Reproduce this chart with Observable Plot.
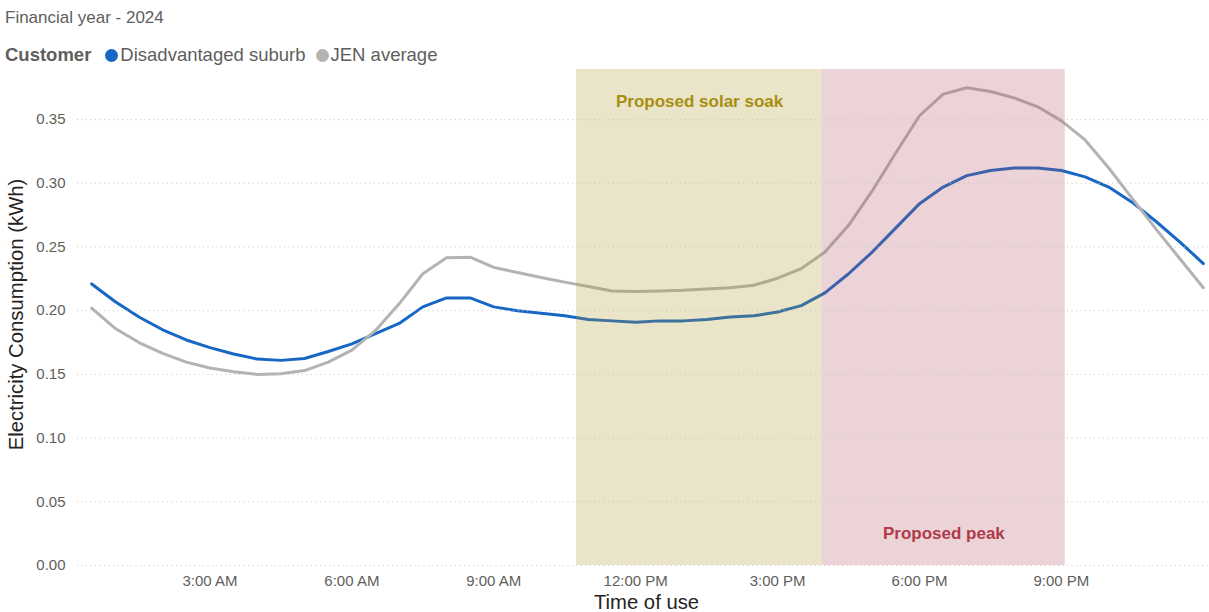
<!DOCTYPE html>
<html>
<head>
<meta charset="utf-8">
<script src="https://cdn.jsdelivr.net/npm/d3@7"></script>
<script src="https://cdn.jsdelivr.net/npm/@observablehq/plot@0.6"></script>
<style>
  html, body { margin: 0; padding: 0; background: #fff; }
  body { width: 1209px; height: 612px; overflow: hidden; font-family: "Liberation Sans", Arial, sans-serif; }
  #header { position: relative; height: 64px; }
  #title { position: absolute; left: 5px; top: 8px; font-size: 17px; color: #605e5c; white-space: nowrap; }
  #legend { position: absolute; left: 5px; top: 44px; font-size: 18.5px; color: #605e5c; white-space: nowrap; display: flex; align-items: center; height: 22px; }
  #legend b { margin-right: 14px; }
  .dot { display: inline-block; width: 13px; height: 13px; border-radius: 50%; margin-right: 2px; }
  .item { display: flex; align-items: center; margin-right: 10px; }
</style>
</head>
<body>
<div id="header">
  <div id="title"></div>
  <div id="legend"></div>
</div>
<div id="chart"></div>
<script>
// ---- Data ----
const chartTitle = "Financial year - 2024";
const legendTitle = "Customer";
const seriesNames = ["Disadvantaged suburb", "JEN average"];
const seriesColors = ["#1767c4", "#b3b3b3"];

// half-hourly time of use (hours after midnight)
const hours = [0.5, 1, 1.5, 2, 2.5, 3, 3.5, 4, 4.5, 5, 5.5, 6, 6.5, 7, 7.5, 8, 8.5, 9, 9.5, 10, 10.5, 11, 11.5, 12,
               12.5, 13, 13.5, 14, 14.5, 15, 15.5, 16, 16.5, 17, 17.5, 18, 18.5, 19, 19.5, 20, 20.5, 21, 21.5, 22, 22.5, 23, 23.5, 24];

const suburb = [0.221, 0.207, 0.195, 0.185, 0.177, 0.171, 0.166, 0.162, 0.161, 0.1625, 0.168, 0.174,
                0.182, 0.190, 0.203, 0.210, 0.210, 0.203, 0.200, 0.198, 0.196, 0.193, 0.192, 0.191,
                0.192, 0.192, 0.193, 0.195, 0.196, 0.199, 0.204, 0.214, 0.229, 0.246, 0.265, 0.284,
                0.297, 0.306, 0.310, 0.312, 0.312, 0.310, 0.305, 0.297, 0.285, 0.270, 0.254, 0.237];

const jen = [0.202, 0.186, 0.175, 0.1665, 0.1596, 0.155, 0.152, 0.150, 0.1505, 0.153, 0.1596, 0.169,
             0.1845, 0.2054, 0.229, 0.2415, 0.242, 0.234, 0.230, 0.226, 0.2224, 0.219, 0.2155, 0.215,
             0.2155, 0.216, 0.217, 0.218, 0.220, 0.2255, 0.233, 0.246, 0.267, 0.294, 0.324, 0.353,
             0.370, 0.375, 0.372, 0.367, 0.360, 0.349, 0.334, 0.312, 0.288, 0.264, 0.241, 0.218];

const xTicks = [3, 6, 9, 12, 15, 18, 21];
const xTickLabels = ["3:00 AM", "6:00 AM", "9:00 AM", "12:00 PM", "3:00 PM", "6:00 PM", "9:00 PM"];
const yTicks = [0, 0.05, 0.10, 0.15, 0.20, 0.25, 0.30, 0.35];

const regionNames = ["Proposed solar soak", "Proposed peak"];
const regionStart = [10.75, 15.95];
const regionEnd = [15.95, 21.08];
const regionFill = ["#ab9328", "#b0505f"];
const regionTextColor = ["#a68f10", "#b03a48"];

const xLabel = "Time of use";
const yLabel = "Electricity Consumption (kWh)";

// ---- Build tables ----
const rows = [];
hours.forEach((h, i) => {
  rows.push({hour: h, value: suburb[i], series: seriesNames[0]});
  rows.push({hour: h, value: jen[i], series: seriesNames[1]});
});
const regions = regionNames.map((n, i) => ({name: n, start: regionStart[i], end: regionEnd[i], fill: regionFill[i], color: regionTextColor[i]}));

// ---- Header ----
document.getElementById("title").textContent = chartTitle;
const legend = document.getElementById("legend");
const lt = document.createElement("b");
lt.textContent = legendTitle;
legend.appendChild(lt);
seriesNames.forEach((n, i) => {
  const item = document.createElement("span");
  item.className = "item";
  const dot = document.createElement("span");
  dot.className = "dot";
  dot.style.background = seriesColors[i];
  item.appendChild(dot);
  const t = document.createElement("span");
  t.textContent = n;
  item.appendChild(t);
  legend.appendChild(item);
});

// ---- Chart ----
const fmtX = new Map(xTicks.map((t, i) => [t, xTickLabels[i]]));
const chart = Plot.plot({
  width: 1209,
  height: 548,
  marginTop: 5,
  marginBottom: 47,
  marginLeft: 77,
  marginRight: 0,
  style: {fontFamily: "'Liberation Sans', Arial, sans-serif", background: "transparent"},
  x: {type: "linear", domain: [0.2, 24.13]},
  y: {domain: [0, 0.3893]},
  color: {domain: seriesNames, range: seriesColors},
  marks: [
    Plot.line(rows, {x: "hour", y: "value", z: "series", stroke: "series", strokeWidth: 3, strokeLinejoin: "round", strokeLinecap: "round"}),
    Plot.rect(regions, {x1: "start", x2: "end", fill: "fill", fillOpacity: 0.25}),
    Plot.gridY(yTicks, {stroke: "#c8c6c4", strokeOpacity: 1, strokeWidth: 1, strokeDasharray: "1,3.5"}),
    Plot.axisX(xTicks, {tickSize: 0, tickPadding: 10, tickFormat: d => fmtX.get(d), fontSize: 15, fill: "#605e5c", label: null}),
    Plot.axisY(yTicks, {tickSize: 0, tickPadding: 12, tickFormat: d => d.toFixed(2), fontSize: 15, fill: "#605e5c", label: null}),
    Plot.text([regions[0]], {x: d => (d.start + d.end) / 2, text: "name", frameAnchor: "top", dy: 32, fill: "color", fontSize: 17, fontWeight: "bold", lineAnchor: "middle"}),
    Plot.text([regions[1]], {x: d => (d.start + d.end) / 2, text: "name", frameAnchor: "bottom", dy: -32, fill: "color", fontSize: 17, fontWeight: "bold", lineAnchor: "middle"}),
    Plot.text([xLabel], {frameAnchor: "bottom", dy: 37, dx: 3, text: d => d, fontSize: 20.3, fill: "#252423", lineAnchor: "middle"}),
    Plot.text([yLabel], {frameAnchor: "left", dx: -61, dy: -3, rotate: -90, textAnchor: "middle", text: d => d, fontSize: 20.3, fill: "#252423", lineAnchor: "middle"})
  ]
});
document.getElementById("chart").appendChild(chart);
</script>
</body>
</html>
